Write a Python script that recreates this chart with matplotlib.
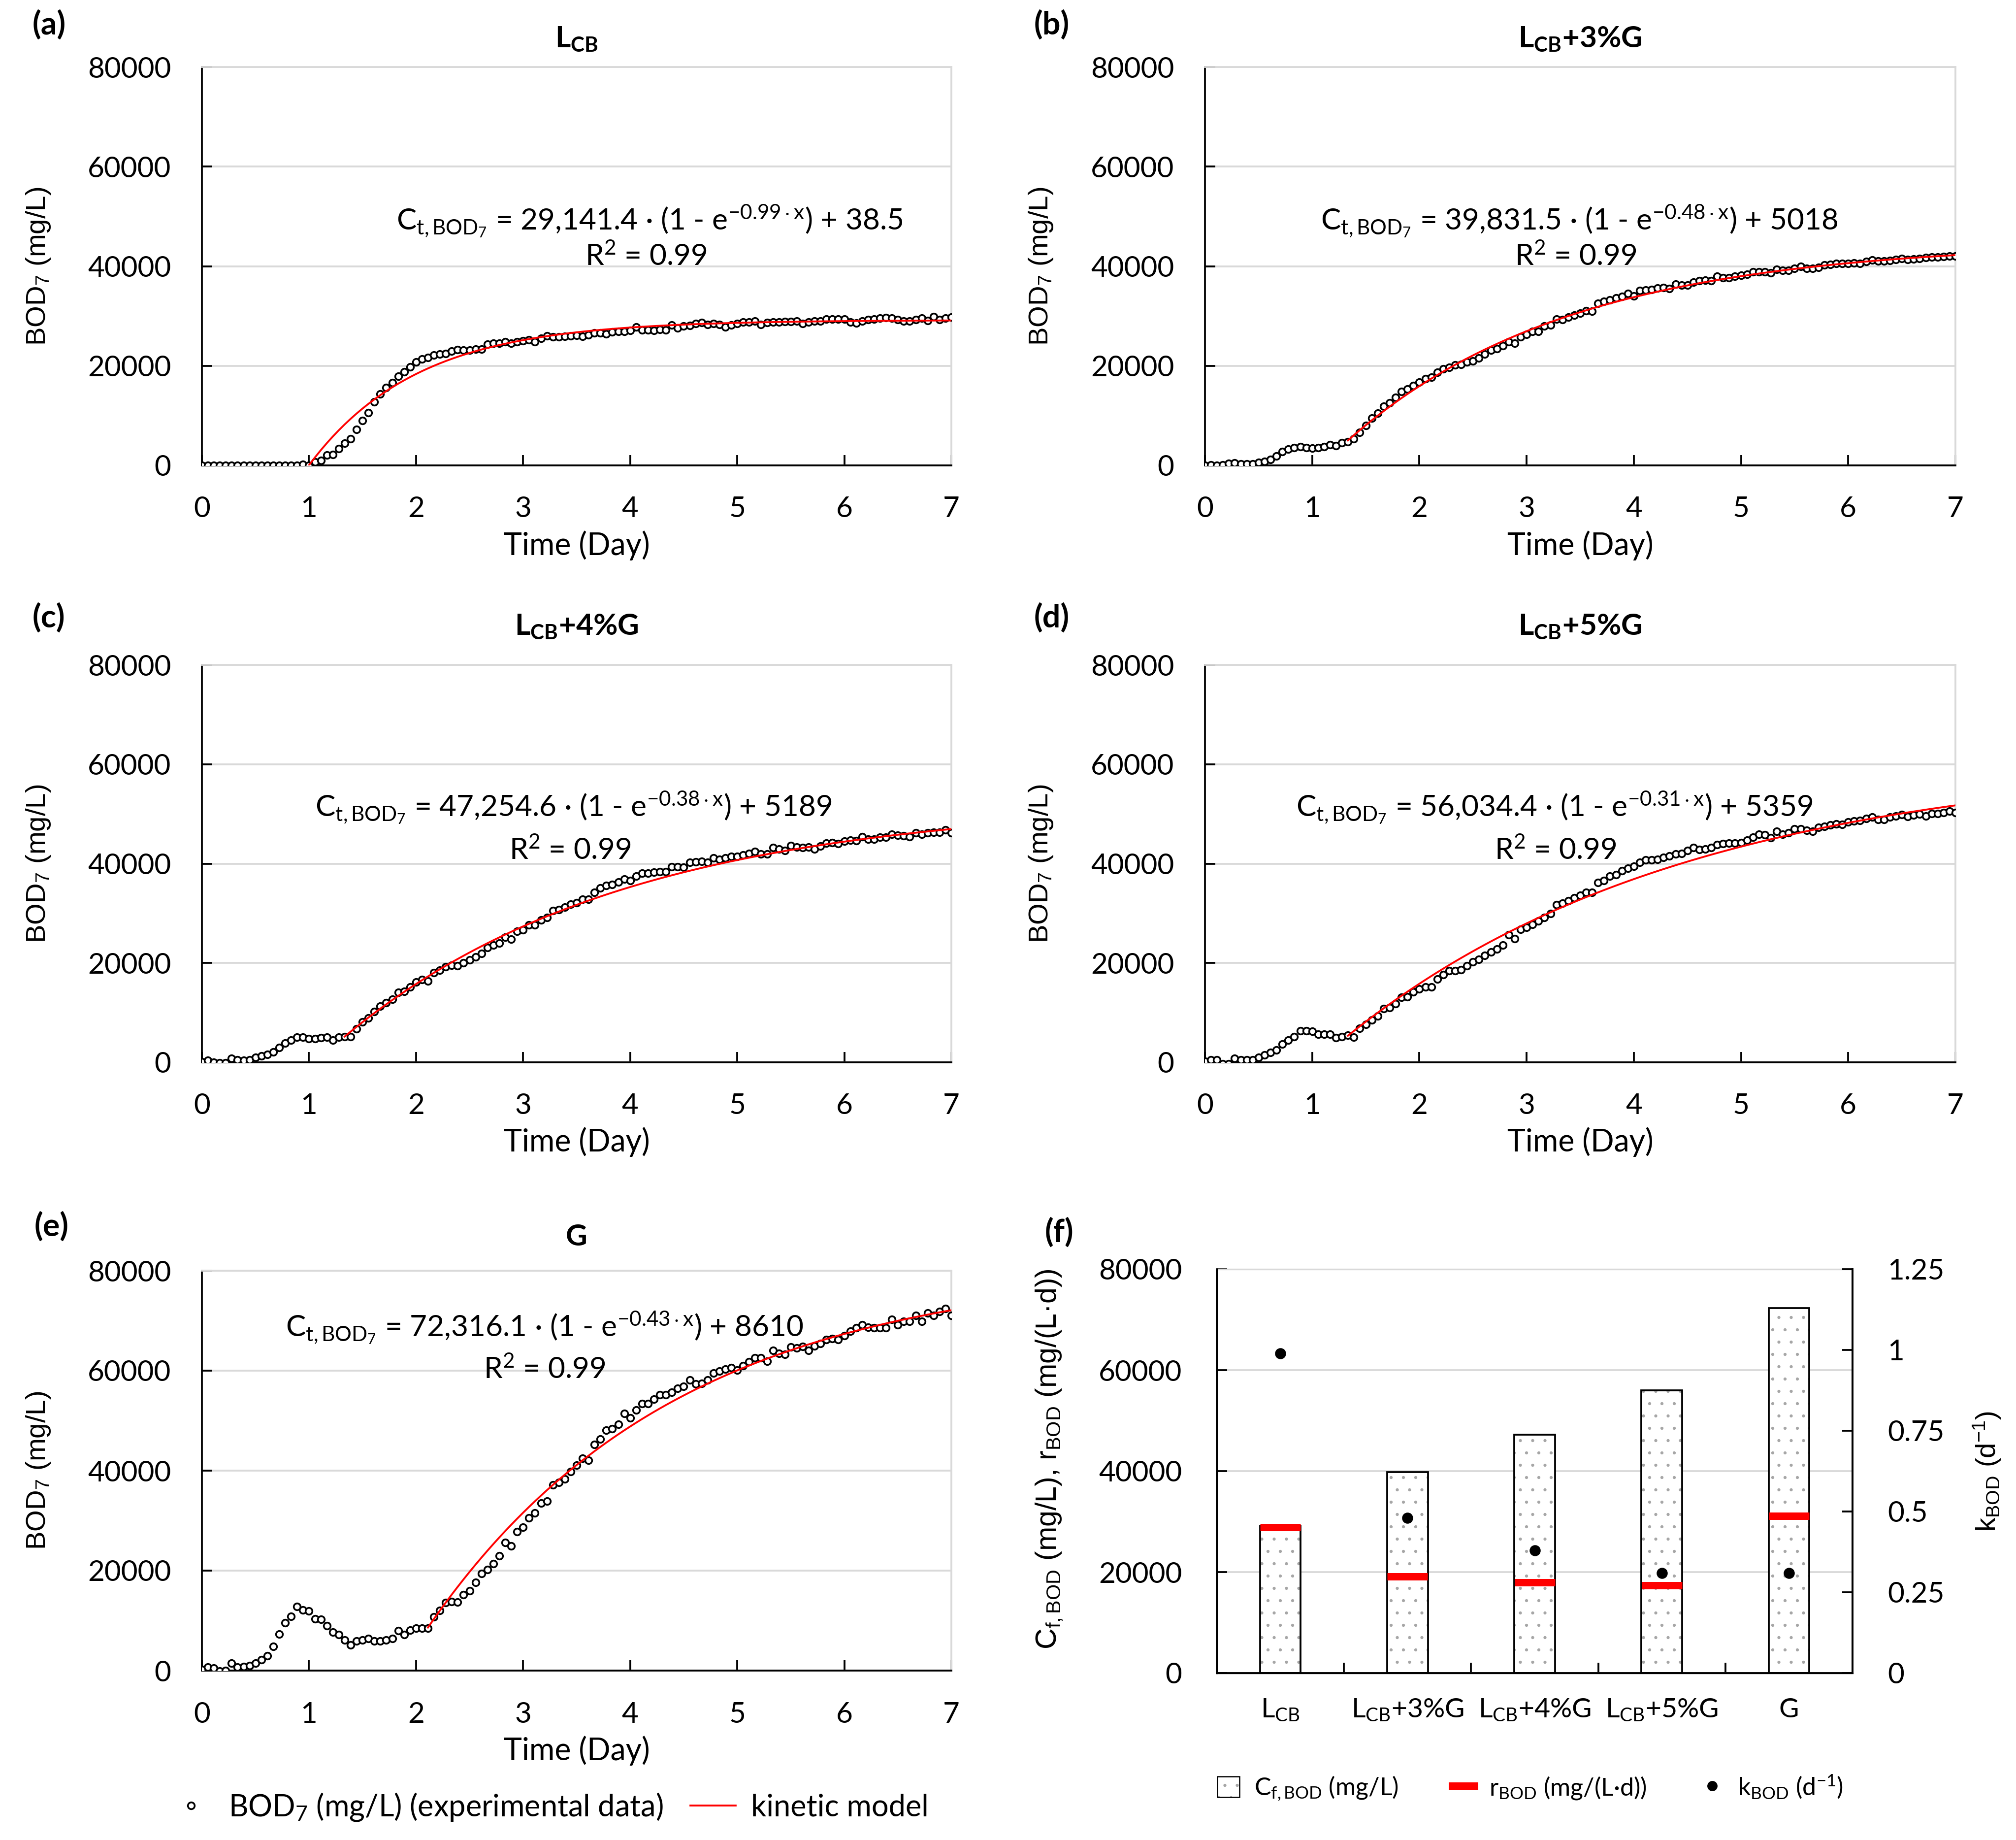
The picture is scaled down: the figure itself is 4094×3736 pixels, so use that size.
import numpy as np
import matplotlib
matplotlib.use("Agg")
import matplotlib.pyplot as plt
from matplotlib.lines import Line2D
from matplotlib.patches import Patch

plt.rcParams['font.family'] = ['Lato', 'DejaVu Sans']
plt.rcParams['mathtext.fontset'] = 'custom'
plt.rcParams['mathtext.rm'] = 'Lato'
plt.rcParams['mathtext.it'] = 'Lato:italic'
plt.rcParams['mathtext.bf'] = 'Lato:bold'
plt.rcParams['hatch.linewidth'] = 0.3

# BOD7 readings (mg/L), one every 80 min (18 per day) from day 0 to day 7
bod_a = [0, 0, 0, 0, 0, 0, 0, 0, 0, 0, 0, 0, 0, 0, 0, 0, 0, 150,
         0, 730, 960, 2050, 2210, 3370, 4460, 5360, 7170, 8990, 10580, 12790, 14380, 15600,
         16660, 17850, 18810, 19740, 20730, 21390, 21620, 22120, 22320, 22480, 22940, 23210,
         23110, 23110, 23370, 23310, 24370, 24530, 24530, 24800, 24530, 24860, 25030, 25190,
         24860, 25520, 26020, 25850, 25850,
         25860, 25960, 26100, 25860, 26230, 26650, 26650, 26390, 26750, 26910, 26910, 27070,
         27800, 27170, 27170, 27070, 27280, 27170, 28220, 27600, 27960, 28120, 28490, 28640,
         28330, 28490, 28330, 27800, 28220, 28490, 28750, 28750, 29010, 28330, 28640, 28750,
         28750, 28860, 28860, 29010, 28490, 28750, 29010, 29010, 29380, 29380, 29380, 29380,
         28750, 28590, 29010, 29270, 29380, 29540, 29700, 29540, 29270, 29010, 29010, 29270,
         29540, 29120, 29910, 29270, 29540, 29800]
bod_b = [0, 100, 0, 100, 400, 500, 300, 300, 300, 600, 800, 1150, 1850, 2750, 3250, 3600,
         3800, 3600, 3500, 3600, 3800, 4150, 3950, 4500, 4750, 5300, 6600, 8000, 9500, 10500,
         11900, 12600, 13600, 14800, 15300, 16000, 16700, 17400, 17700, 18700, 19400, 19700,
         20200, 20300, 20800, 21000, 21600, 22300, 23100, 23400, 24000, 24800, 24500, 25800,
         26300, 26900, 26900, 28000, 28200, 29400, 29300, 29800, 30200, 30600, 31100, 31000,
         32500, 32900, 33200, 33600, 33900, 34500, 34000, 35100, 35200, 35300, 35600, 35700,
         35500, 36400, 36200, 36200, 36800, 37100, 37200, 37100, 38000, 37700, 37700, 38000,
         38200, 38400, 38900, 38900, 38900, 38700, 39400, 39200, 39200, 39600, 40000, 39600,
         39600, 39800, 40200, 40300, 40500, 40500, 40500, 40600, 40500, 40900, 41200, 41000,
         41000, 41100, 41300, 41500, 41300, 41400, 41500, 41700, 41800, 41800, 41900, 42000,
         42000]
bod_c = [100, 350, 0, -100, -100, 800, 500, 400, 500, 950, 1300, 1600, 2100, 3000, 3900,
         4500, 5100, 5100, 4800, 4800, 5000, 5100, 4500, 5100, 5200, 5200, 6700, 8100, 8900,
         10200, 11300, 12000, 12700, 14100, 14300, 15200, 16200, 16700, 16400, 18000, 18500,
         19200, 19500, 19400, 20000, 20600, 21200, 21900, 23100, 23600, 24000, 25200, 24800,
         26400, 26700, 27700, 27700, 28600, 29100, 30500, 30700, 31200, 31800, 32100, 32800,
         32800, 34200, 35100, 35600, 35800, 36300, 36900, 36600, 37500, 38100, 38100, 38300,
         38400, 38400, 39400, 39400, 39300, 40200, 40300, 40400, 40200, 41100, 40800, 41100,
         41400, 41400, 41700, 42000, 42400, 41900, 41900, 43200, 42900, 42600, 43600, 43300,
         43200, 43300, 42900, 43500, 44100, 44200, 44000, 44500, 44700, 44600, 45400, 44900,
         44900, 45300, 45300, 45900, 45700, 45600, 45400, 46200, 45900, 46200, 46300, 46300,
         46800, 46200]
bod_d = [150, 500, 500, -300, -300, 800, 500, 500, 500, 1000, 1500, 2000, 2500, 3700, 4500,
         5200, 6300, 6300, 6200, 5700, 5700, 5700, 5000, 5200, 5500, 5100, 6800, 7600, 8500,
         9300, 10800, 11000, 11800, 13100, 13200, 14200, 14800, 15200, 15200, 16800, 17600,
         18400, 18400, 18600, 19400, 20200, 20700, 21500, 22200, 22800, 23600, 25700, 24900,
         26800, 27200, 27800, 28500, 29100, 29900, 31700, 32000, 32500, 33100, 33600, 34200,
         34200, 36200, 36600, 37500, 37800, 38600, 39100, 39500, 40200, 40700, 40700, 40800,
         41200, 41500, 41900, 42000, 42600, 43200, 42800, 42900, 43200, 43800, 44000, 44100,
         44100, 44200, 44700, 45300, 45900, 45800, 45200, 46500, 45900, 46200, 47000, 47000,
         46700, 46500, 47300, 47500, 47800, 48000, 47900, 48400, 48600, 48700, 49100, 49400,
         48900, 48900, 49400, 49600, 49900, 49500, 49800, 50000, 49600, 50100, 50100, 50300,
         50600, 50300]
bod_e = [150, 700, 500, -100, 0, 1500, 700, 800, 1000, 1500, 2200, 3000, 4800, 7300, 9600,
         10800, 12800, 12100, 11900, 10300, 10200, 9000, 7700, 7200, 6100, 5100, 5900, 6100,
         6400, 5900, 5900, 6100, 6400, 8000, 7200, 8100, 8500, 8500, 8500, 10700, 12000, 13600,
         13800, 13700, 15200, 16000, 17600, 19400, 20200, 21400, 23000, 25600, 24900, 27800,
         28700, 30500, 31500, 33500, 33900, 37100, 37600, 38300, 39800, 41100, 42500, 42100,
         45200, 46300, 48100, 48400, 49300, 51400, 50500, 52100, 53400, 53400, 54300, 55200,
         55200, 55700, 56500, 56800, 58100, 57300, 57400, 58100, 59500, 59900, 60300, 60600,
         60100, 61000, 61800, 62600, 62600, 61900, 64000, 63400, 63300, 64700, 64500, 64800,
         64000, 64900, 65400, 66200, 66400, 66200, 67000, 67900, 68600, 69200, 68700, 68600,
         68600, 68600, 70200, 69200, 69900, 69900, 71000, 69900, 71500, 71000, 71800, 72400,
         71000]

# fitted kinetic model parameters printed on each panel
fit_A = [29141.4, 39831.5, 47254.6, 56034.4, 72316.1]
fit_k = [0.99, 0.48, 0.38, 0.31, 0.43]
fit_c0 = [38.5, 5018, 5189, 5359, 8610]
fit_start = [18, 24, 24, 24, 38]   # reading index where the model line starts

eq_texts = [
    r"C$_{\mathregular{t,BOD_7}}$ = 29,141.4 · (1 - e$^{\mathregular{-0.99\cdot x}}$) + 38.5",
    r"C$_{\mathregular{t,BOD_7}}$ = 39,831.5 · (1 - e$^{\mathregular{-0.48\cdot x}}$) + 5018",
    r"C$_{\mathregular{t,BOD_7}}$ = 47,254.6 · (1 - e$^{\mathregular{-0.38\cdot x}}$) + 5189",
    r"C$_{\mathregular{t,BOD_7}}$ = 56,034.4 · (1 - e$^{\mathregular{-0.31\cdot x}}$) + 5359",
    r"C$_{\mathregular{t,BOD_7}}$ = 72,316.1 · (1 - e$^{\mathregular{-0.43\cdot x}}$) + 8610",
]
titles = [r"$\mathbf{L_{CB}}$", r"$\mathbf{L_{CB}}$+3%G", r"$\mathbf{L_{CB}}$+4%G",
          r"$\mathbf{L_{CB}}$+5%G", "G"]
letters = ["(a)", "(b)", "(c)", "(d)", "(e)"]

# panel (f)
groups = [r"L$_{\mathregular{CB}}$", r"L$_{\mathregular{CB}}$+3%G", r"L$_{\mathregular{CB}}$+4%G",
          r"L$_{\mathregular{CB}}$+5%G", "G"]
cf_bod = [29141.4, 39831.5, 47254.6, 56034.4, 72316.1]
r_bod = [28850, 19120, 17960, 17370, 31100]
k_bod = [0.99, 0.48, 0.38, 0.31, 0.31]

W, H = 4094, 3736
fig = plt.figure(figsize=(W / 300, H / 300), dpi=300)

def px_axes(x0, y0, x1, y1):
    return fig.add_axes([x0 / W, 1 - y1 / H, (x1 - x0) / W, (y1 - y0) / H])

boxes = [(410, 136, 1932, 945), (2447, 136, 3971, 945),
         (410, 1350, 1932, 2157), (2447, 1350, 3971, 2157),
         (410, 2580, 1932, 3392)]
eq_pos = [(4.18, 49000), (3.49, 49000), (3.47, 51250), (3.26, 51250), (3.2, 68500)]
r2_pos = [(4.15, 42000), (3.46, 42000), (3.44, 42700), (3.27, 42700), (3.2, 60250)]
title_y = [1.069, 1.069, 1.095, 1.095, 1.084]
letter_xy = [(66, 50), (2100, 50), (66, 1254), (2100, 1254), (70, 2490)]

TS = 14
all_bod = [bod_a, bod_b, bod_c, bod_d, bod_e]
for n in range(5):
    ax = px_axes(*boxes[n])
    vals = np.array(all_bod[n], dtype=float)
    t = np.arange(len(vals)) / 18
    tm = t[fit_start[n]:]
    model = fit_A[n] * (1 - np.exp(-fit_k[n] * (tm - tm[0]))) + fit_c0[n]
    ax.plot(t, vals, ls='none', marker='o', ms=3.3, mfc='white', mec='black', mew=0.85,
            zorder=3)
    ax.plot(tm, model, color='red', lw=0.9, zorder=4)
    ax.set_xlim(0, 7)
    ax.set_ylim(0, 80000)
    ax.set_xticks(range(8))
    ax.set_yticks(range(0, 80001, 20000))
    ax.yaxis.grid(True, color='#d9d9d9', lw=0.9)
    ax.set_axisbelow(True)
    for s in ['top', 'right']:
        ax.spines[s].set_color('#d9d9d9')
        ax.spines[s].set_linewidth(0.9)
    for s in ['left', 'bottom']:
        ax.spines[s].set_linewidth(0.9)
    ax.tick_params(direction='in', length=5, width=0.9, labelsize=TS, pad=15)
    ax.set_xlabel("Time (Day)", fontsize=15)
    ax.xaxis.set_label_coords(0.5, -0.163)
    ax.xaxis.label.set_va('top')
    ax.set_ylabel(r"BOD$_{\mathregular{7}}$ (mg/L)", family='Liberation Sans', fontsize=13.5)
    ax.yaxis.set_label_coords(-0.2, 0.5)
    ax.text(eq_pos[n][0], eq_pos[n][1], eq_texts[n], ha='center', va='center', fontsize=14.5)
    ax.text(r2_pos[n][0], r2_pos[n][1], r"R$^{\mathregular{2}}$ = 0.99", ha='center',
            va='center', fontsize=14.5)
    ax.text(0.5, title_y[n], titles[n], transform=ax.transAxes, ha='center', va='center',
            fontsize=14.5, fontweight='bold')
    fig.text(letter_xy[n][0] / W, 1 - letter_xy[n][1] / H, letters[n], ha='left',
             va='center', fontsize=15.5, fontweight='bold')

# panel (f)
ax = px_axes(2471, 2577, 3762, 3397)
xpos = np.arange(len(groups))
ax.bar(xpos, cf_bod, width=0.32, color='white', edgecolor='#a6a6a6', lw=0, hatch='..',
       zorder=2)
ax.bar(xpos, cf_bod, width=0.32, fill=False, edgecolor='black', lw=0.9, zorder=3)
ax.plot(xpos, r_bod, ls='none', marker='_', ms=19.5, mew=3.6, color='red', zorder=4)
ax.set_xlim(-0.5, 4.5)
ax.set_ylim(0, 80000)
ax.set_yticks(range(0, 80001, 20000))
ax.set_xticks(xpos)
ax.set_xticklabels(groups)
ax.set_xticks(xpos[:-1] + 0.5, minor=True)
ax.tick_params(axis='x', which='major', length=0, labelsize=13.3, pad=12)
ax.tick_params(axis='x', which='minor', direction='in', length=5, width=0.9)
ax.tick_params(axis='y', direction='in', length=5, width=0.9, labelsize=TS, pad=17)
ax.yaxis.grid(True, color='#d9d9d9', lw=0.9)
ax.set_axisbelow(True)
ax.spines['top'].set_color('#d9d9d9')
for s in ['left', 'bottom', 'right']:
    ax.spines[s].set_linewidth(0.9)
ax.set_ylabel(r"C$_{\mathregular{f,BOD}}$ (mg/L), r$_{\mathregular{BOD}}$ (mg/(L·d))",
              family='Liberation Sans', fontsize=14.2)
ax.yaxis.set_label_coords(-0.24, 0.53)

ax2 = ax.twinx()
ax2.plot(xpos, k_bod, ls='none', marker='o', ms=4.4, color='black', zorder=5)
ax2.set_ylim(0, 1.25)
ax2.set_yticks([0, 0.25, 0.5, 0.75, 1, 1.25])
ax2.set_yticklabels(["0", "0.25", "0.5", "0.75", "1", "1.25"])
ax2.tick_params(axis='y', direction='in', length=5, width=0.9, labelsize=TS, pad=17)
ax2.spines['right'].set_linewidth(0.9)
ax2.spines['top'].set_visible(False)
ax2.set_ylabel(r"k$_{\mathregular{BOD}}$ (d$^{\mathregular{-1}}$)", family='Liberation Sans',
               fontsize=13.5, rotation=90)
ax2.yaxis.set_label_coords(1.187, 0.5)
fig.text(2122 / W, 1 - 2502 / H, "(f)", ha='left', va='center', fontsize=15.5,
         fontweight='bold')

# legends
h_e = [Line2D([], [], ls='none', marker='o', ms=3.3, mfc='white', mec='black', mew=0.85),
       Line2D([], [], color='red', lw=0.9)]
fig.legend(h_e, [r"BOD$_{\mathregular{7}}$ (mg/L) (experimental data)", "kinetic model"],
           loc='center', bbox_to_anchor=(0.272, 0.018), ncol=2, frameon=False,
           fontsize=14.7, handlelength=1.5, columnspacing=0.9, handletextpad=0.5)

bar_key = (Patch(facecolor='white', edgecolor='#a6a6a6', hatch='..', lw=0),
           Patch(fill=False, edgecolor='black', lw=0.6))
h_f = [bar_key,
       Line2D([], [], color='red', lw=3.6),
       Line2D([], [], ls='none', marker='o', ms=4.0, color='black')]
fig.legend(h_f, [r"C$_{\mathregular{f,BOD}}$ (mg/L)", r"r$_{\mathregular{BOD}}$ (mg/(L·d))",
                 r"k$_{\mathregular{BOD}}$ (d$^{\mathregular{-1}}$)"],
           loc='center', bbox_to_anchor=(0.759, 0.0284), ncol=3, frameon=False,
           fontsize=12, handlelength=0.9, handleheight=0.9, columnspacing=2.2,
           handletextpad=0.6)

fig.savefig("out.png", dpi=300)
